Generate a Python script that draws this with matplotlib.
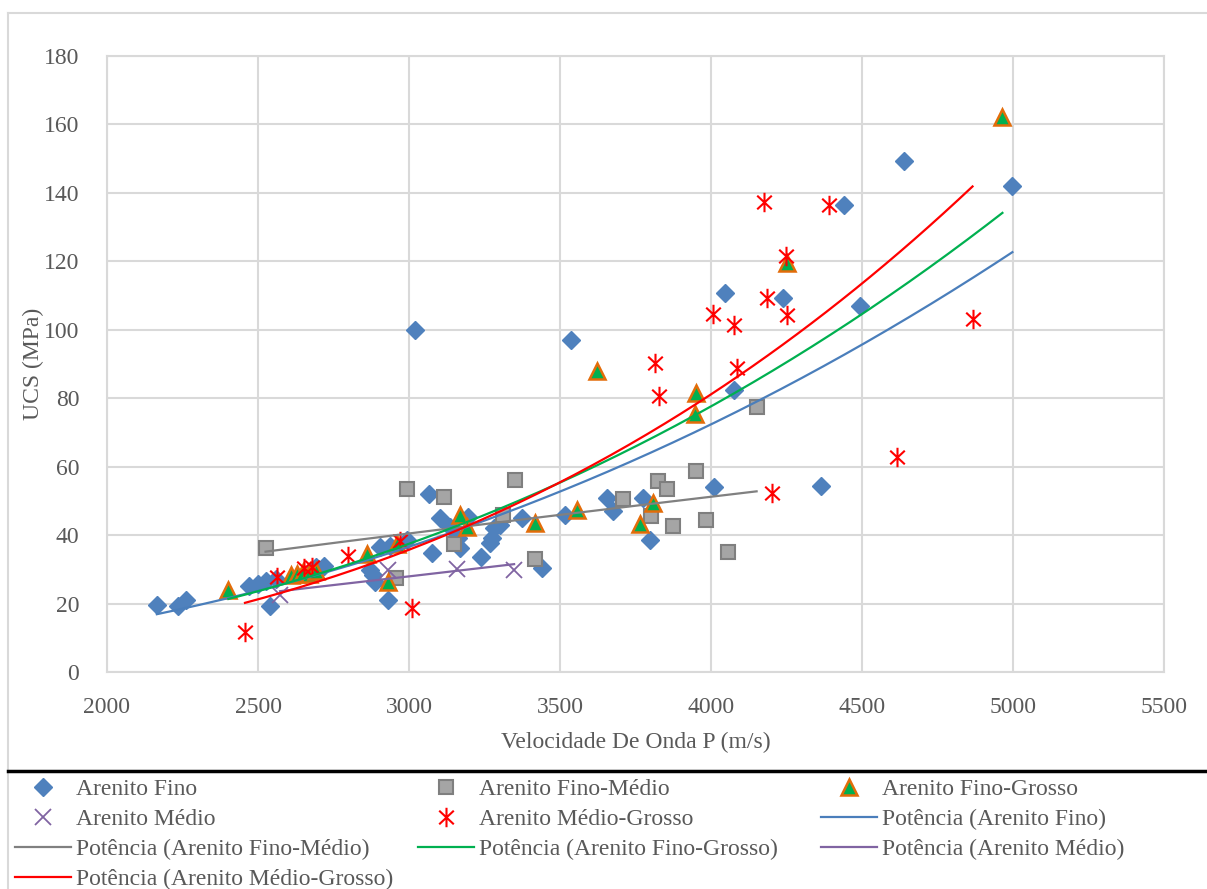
import numpy as np
import matplotlib
matplotlib.use("Agg")
import matplotlib.pyplot as plt
from matplotlib.path import Path
from matplotlib.lines import Line2D

plt.rcParams['font.family'] = ['Liberation Serif', 'DejaVu Serif']

# Arenito Fino
xf = [2165, 2235, 2262, 2470, 2500, 2526, 2540, 2560, 2692, 2718, 2870, 2880, 2888, 2905,
      2938, 2930, 2995, 3020, 3065, 3075, 3104, 3135, 3161, 3169, 3195, 3240, 3268, 3275,
      3280, 3300, 3374, 3440, 3516, 3535, 3655, 3675, 3775, 3799, 4010, 4045, 4075, 4240,
      4365, 4440, 4495, 4639, 4998]
yf = [19.7, 19.3, 21.0, 25.1, 25.7, 26.6, 19.3, 27.3, 30.6, 31.0, 29.8, 28.4, 26.3, 36.5,
      36.8, 21.0, 38.5, 99.8, 52.0, 34.7, 45.1, 42.5, 39.1, 36.2, 45.4, 33.7, 37.7, 39.1,
      42.0, 43.0, 44.9, 30.3, 45.9, 97.0, 50.8, 47.1, 50.8, 38.6, 54.0, 110.8, 82.4, 109.3,
      54.3, 136.6, 107.0, 149.4, 142.0]

# Arenito Fino-Médio
xfm = [2525, 2957, 2992, 3117, 3148, 3312, 3350, 3418, 3707, 3800, 3823, 3853, 3875, 3949,
       3984, 4057, 4151]
yfm = [36.2, 27.4, 53.6, 51.1, 37.4, 45.9, 56.1, 32.9, 50.5, 45.7, 55.9, 53.4, 42.8, 58.7,
       44.4, 35.0, 77.4]

# Arenito Fino-Grosso
xfg = [2402, 2610, 2628, 2648, 2668, 2692, 2860, 2932, 2959, 3169, 3191, 3417, 3555, 3621,
       3765, 3807, 3947, 3950, 4251, 4965]
yfg = [24.0, 28.3, 28.6, 29.2, 28.7, 29.6, 34.5, 26.4, 37.3, 45.9, 42.5, 43.6, 47.2, 88.1,
       43.2, 49.5, 75.4, 81.4, 119.6, 162.3]

# Arenito Médio
xm = [2573, 2932, 3158, 3348]
ym = [22.5, 29.8, 30.0, 29.8]

# Arenito Médio-Grosso
xmg = [2457, 2562, 2652, 2680, 2799, 2970, 3009, 3815, 3829, 4005, 4076, 4085, 4174, 4186,
       4201, 4248, 4251, 4392, 4617, 4866]
ymg = [11.8, 27.9, 30.3, 30.8, 34.0, 38.3, 18.6, 90.4, 80.7, 104.6, 101.4, 88.7, 137.4,
       109.2, 52.4, 121.6, 104.3, 136.5, 62.9, 103.1]


def power_fit(x, y):
    # ajuste potencia y = a*x^b (regressao em log-log, como o Excel)
    x = np.asarray(x, float)
    y = np.asarray(y, float)
    b, lna = np.polyfit(np.log(x), np.log(y), 1)
    xs = np.linspace(x.min(), x.max(), 200)
    return xs, np.exp(lna) * xs ** b


star = Path([(0, -1), (0, 1), (-0.75, -0.7), (0.75, 0.7), (-0.75, 0.7), (0.75, -0.7)],
            [Path.MOVETO, Path.LINETO, Path.MOVETO, Path.LINETO, Path.MOVETO, Path.LINETO])

fig = plt.figure(figsize=(12.07, 8.89), dpi=100)
ax = fig.add_axes([107 / 1207, 1 - 672 / 889, (1164 - 107) / 1207, (672 - 56) / 889])

blue = '#4f81bd'
sF, = ax.plot(xf, yf, 'D', ms=9, color=blue, mec=blue, ls='none', zorder=3)
sFM, = ax.plot(xfm, yfm, 's', ms=10, mfc='#a5a5a5', mec='#7f7f7f', mew=1.5, ls='none', zorder=3)
sFG, = ax.plot(xfg, yfg, '^', ms=11, mfc='#00b050', mec='#e36c09', mew=1.8, ls='none', zorder=3)
sM, = ax.plot(xm, ym, 'x', ms=12, color='#8064a2', mew=1.3, ls='none', zorder=3)
sMG, = ax.plot(xmg, ymg, ls='none', marker=star, ms=14, color='#ff0000', mew=1.5, zorder=3)

lw = 1.6
tF, = ax.plot(*power_fit(xf, yf), color='#4a7ebb', lw=lw, zorder=4)
tFM, = ax.plot(*power_fit(xfm, yfm), color='#808080', lw=lw, zorder=4)
tFG, = ax.plot(*power_fit(xfg, yfg), color='#00b050', lw=lw, zorder=4)
tM, = ax.plot(*power_fit(xm, ym), color='#8064a2', lw=lw, zorder=4)
tMG, = ax.plot(*power_fit(xmg, ymg), color='#ff0000', lw=lw, zorder=4)

ax.set_xlim(2000, 5500)
ax.set_ylim(0, 180)
ax.set_xticks(np.arange(2000, 5501, 500))
ax.set_yticks(np.arange(0, 181, 20))
ax.grid(True, color='#d9d9d9', lw=1.5)
ax.set_axisbelow(True)
for s in ax.spines.values():
    s.set_color('#d9d9d9')
    s.set_linewidth(1.5)
ax.tick_params(length=0, labelsize=17, labelcolor='#595959')
ax.tick_params(axis='x', pad=18)
ax.tick_params(axis='y', pad=20)
ax.set_xlabel('Velocidade De Onda P (m/s)', fontsize=17, color='#595959', labelpad=10)
ax.set_ylabel('UCS (MPa)', fontsize=17, color='#595959', labelpad=0)

# moldura e linha da legenda
fig.add_artist(Line2D([8 / 1207, 1], [1 - 13 / 889] * 2, color='#d9d9d9', lw=1.5))
fig.add_artist(Line2D([8 / 1207] * 2, [0, 1 - 13 / 889], color='#d9d9d9', lw=1.5))
fig.add_artist(Line2D([8 / 1207, 1], [1 - 771 / 889] * 2, color='black', lw=2.5))

cols = [
    ([sF, sM, tFM, tMG], ['Arenito Fino', 'Arenito Médio', 'Potência (Arenito Fino-Médio)',
                          'Potência (Arenito Médio-Grosso)']),
    ([sFM, sMG, tFG], ['Arenito Fino-Médio', 'Arenito Médio-Grosso',
                       'Potência (Arenito Fino-Grosso)']),
    ([sFG, tF, tM], ['Arenito Fino-Grosso', 'Potência (Arenito Fino)',
                     'Potência (Arenito Médio)']),
]
xpos = [10, 413, 816]
for (h, l), xp in zip(cols, xpos):
    leg = fig.legend(h, l, loc='upper left', bbox_to_anchor=(xp / 1207, 1 - 774 / 889),
                     frameon=False, fontsize=17, handlelength=2.4, handletextpad=0.2,
                     labelspacing=0.36, borderaxespad=0, borderpad=0.2)
    for t in leg.get_texts():
        t.set_color('#595959')

fig.savefig('out.png', dpi=100)
